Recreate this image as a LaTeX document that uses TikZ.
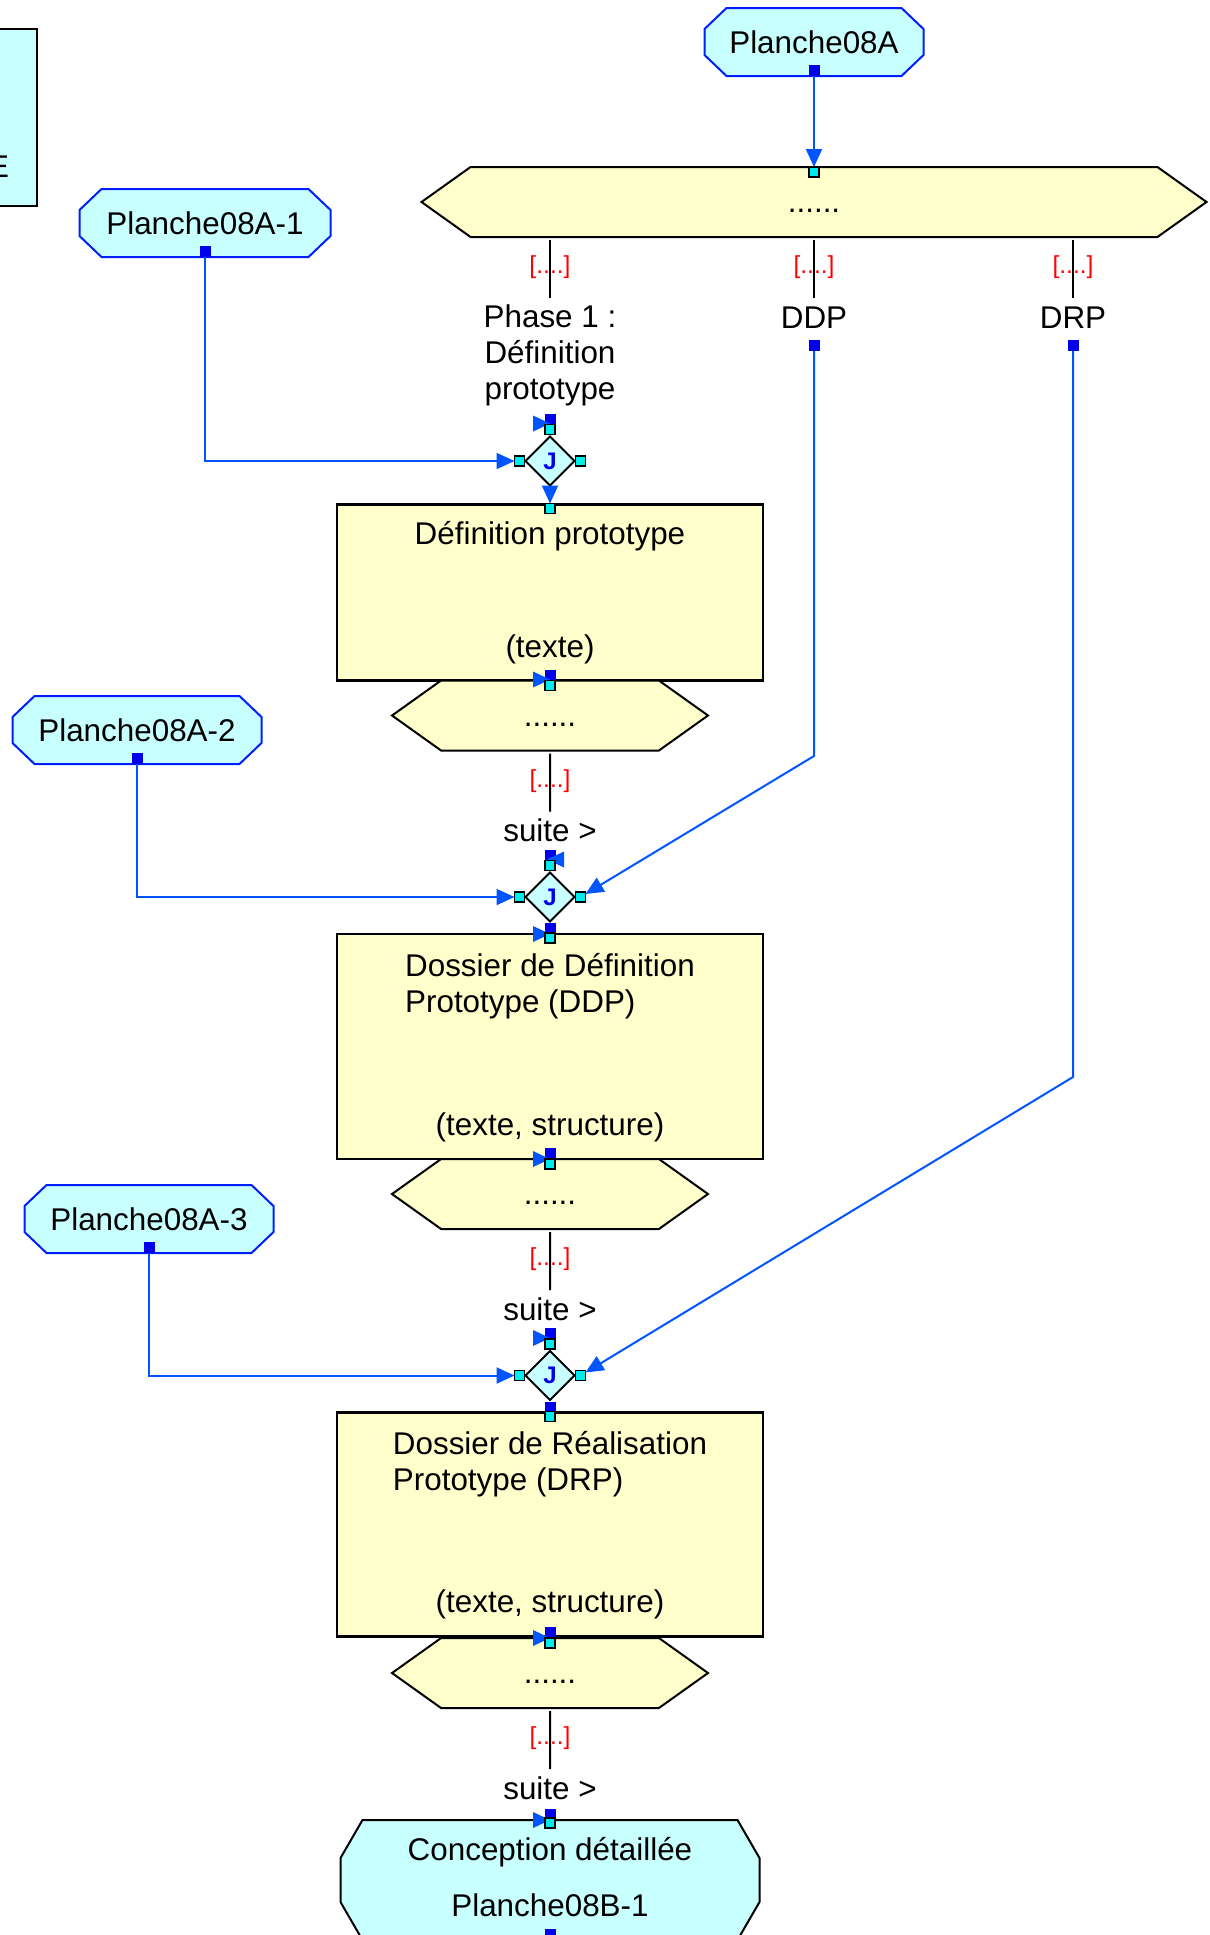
\documentclass[tikz,border=0pt]{standalone}
\usepackage{fontspec}
\setmainfont{Liberation Sans}
\usetikzlibrary{positioning}
\usetikzlibrary{shapes.geometric,shapes.symbols}
\usetikzlibrary{arrows.meta}

\definecolor{plancheFill}{RGB}{200,255,255}
\definecolor{plancheLine}{RGB}{0,30,255}
\definecolor{boxFill}{RGB}{255,255,204}
\definecolor{linkBlue}{RGB}{0,85,255}
\definecolor{pinBlue}{RGB}{0,0,235}
\definecolor{portCyan}{RGB}{0,235,235}

\pgfdeclarelayer{back}
\pgfsetlayers{back,main}

% octagon round a node: node, x cut, y cut
\newcommand{\octo}[3]{([xshift=#2]#1.north west) -- ([xshift=-#2]#1.north east) -- ([yshift=-#3]#1.north east) -- ([yshift=#3]#1.south east) -- ([xshift=-#2]#1.south east) -- ([xshift=#2]#1.south west) -- ([yshift=#3]#1.south west) -- ([yshift=-#3]#1.north west) -- cycle}

\tikzset{>={Triangle[length=9pt,width=8pt]}, % filled arrow heads
every node/.style={font=\fontsize{15.7}{18}\selectfont, inner sep=0pt, outer sep=0pt}, % Arial-like text
txt/.style={text height=11.5pt, text depth=3.5pt}, % one line of text
planche/.style={rectangle, minimum height=34pt, text height=11.3pt, text depth=0pt}, % sheet references
plancheLook/.style={draw=plancheLine, line width=1pt, fill=plancheFill}, % their octagon
hexa/.style={signal, signal to=east and west, signal pointer angle=71, draw, line width=1pt, fill=boxFill, minimum height=35pt, text height=14pt, text depth=3.5pt}, % the ...... blocks
task/.style={rectangle, draw, line width=1.2pt, fill=boxFill, minimum width=213pt}, % the big yellow boxes
junction/.style={diamond, draw, line width=1pt, fill=plancheFill, minimum size=24.5pt, text=pinBlue, font=\fontsize{12}{14}\selectfont\bfseries}, % the J nodes
portsq/.style={rectangle, draw, line width=0.7pt, fill=portCyan, minimum size=5pt}, % cyan entry squares
pinsq/.style={rectangle, fill=pinBlue, minimum size=5.5pt}, % blue exit squares
tipR/.style={isosceles triangle, isosceles triangle stretches, fill=linkBlue, minimum height=8.5pt, minimum width=8pt}, % lone arrow heads
tipL/.style={tipR, shape border rotate=180},
link/.style={->, draw=linkBlue, line width=1pt}, % blue connectors
stub/.style={draw, line width=1pt, shorten <=1.5pt, shorten >=3.5pt}, % black outputs
elide/.style={pos=0.45, text=red, font=\fontsize{12.3}{14}\selectfont} % the red [....]
}

\begin{document}
\begin{tikzpicture}[x=0.5pt, y=-0.5pt]
\useasboundingbox (0,0) rectangle (1210,1935);
\clip (0,0) rectangle (1210,1935);

% previous sheet, cut by the edge
\node[rectangle, draw, line width=1.2pt, fill=plancheFill, minimum width=60pt, minimum height=88.5pt, anchor=north east] (prevbox) at (37,29) {};
\node[txt, anchor=base east] (prevtxt) at (9,177) {E};

% sheets coming in
\node[planche, minimum width=109.5pt] (octA) at (814,42) {Planche08A};
\node[planche, minimum width=125.5pt] (oct1) at (205,223) {Planche08A-1};
\node[planche, minimum width=124.5pt] (oct2) at (137,730) {Planche08A-2};
\node[planche, minimum width=124.5pt] (oct3) at (149,1219) {Planche08A-3};

% main column
\node[hexa, minimum width=392.5pt] (hexA) at (814,202) {......};
\node[align=center, anchor=north] (phase) at (550,305) {Phase 1 :\\Définition\\prototype};
\node[txt, below=34pt of hexA.south] (ddp) {DDP};
\node[txt, anchor=north] (drp) at (1073,305) {DRP};

\node[junction] (j1) at (550,461) {J};
\node[task, minimum height=88pt, below=9.5pt of j1] (b1) {};
\node[txt, below=8.5pt of b1.north] (b1title) {Définition prototype};
\node[txt, above=8pt of b1.south] (b1note) {(texte)};
\node[hexa, minimum width=158pt, below=0pt of b1] (hex2) {......};
\node[txt, below=34pt of hex2] (suite1) {suite >};

\node[junction, below=12pt of suite1] (j2) {J};
\node[task, minimum height=112.5pt, below=6.25pt of j2] (b2) {};
\node[align=left, below=9.5pt of b2.north] (b2title) {Dossier de Définition\\Prototype (DDP)};
\node[txt, above=8.5pt of b2.south] (b2note) {(texte, structure)};
\node[hexa, minimum width=158pt, below=0pt of b2] (hex3) {......};
\node[txt, below=34pt of hex3] (suite2) {suite >};

\node[junction, below=12pt of suite2] (j3) {J};
\node[task, minimum height=112pt, below=6.25pt of j3] (b3) {};
\node[align=left, below=9.5pt of b3.north] (b3title) {Dossier de Réalisation\\Prototype (DRP)};
\node[txt, above=8.5pt of b3.south] (b3note) {(texte, structure)};
\node[hexa, minimum width=158pt, below=0.75pt of b3] (hex4) {......};
\node[txt, below=34pt of hex4] (suite3) {suite >};

\node[planche, minimum width=209.5pt, minimum height=60pt, below=7pt of suite3] (octB) {};
\node[txt, below=8.75pt of octB.north] (octBtitle) {Conception détaillée};
\node[txt, below=13pt of octBtitle] (octBcode) {Planche08B-1};

% octagons behind the sheet names
\begin{pgfonlayer}{back}
\draw[plancheLook] \octo{octA}{11pt}{10.5pt};
\draw[plancheLook] \octo{oct1}{11pt}{10.5pt};
\draw[plancheLook] \octo{oct2}{11pt}{10.5pt};
\draw[plancheLook] \octo{oct3}{11pt}{10.5pt};
\draw[plancheLook, draw=black] \octo{octB}{11pt}{19pt};
\end{pgfonlayer}

% exit squares
\node[pinsq, above=0pt of octA.south] (octApin) {};
\node[pinsq, above=0pt of oct1.south] (oct1pin) {};
\node[pinsq, above=0pt of oct2.south] (oct2pin) {};
\node[pinsq, above=0pt of oct3.south] (oct3pin) {};
\node[pinsq, below=2.5pt of ddp] (ddppin) {};
\node[pinsq, below=2.5pt of drp] (drppin) {};
\node[pinsq, above=0pt of octB.south] (octBpin) {};
\node[pinsq, above=6pt of j1] (j1pin) {};
\node[pinsq, above=0pt of hex2.north] (b1pin) {};
\node[pinsq, above=6pt of j2] (j2pin) {};
\node[pinsq, above=0pt of b2.north] (j2out) {};
\node[pinsq, above=0pt of hex3.north] (b2pin) {};
\node[pinsq, above=6pt of j3] (j3pin) {};
\node[pinsq, above=0pt of b3.north] (j3out) {};
\node[pinsq, above=0pt of hex4.north] (b3pin) {};
\node[pinsq, above=0pt of octB.north] (suite3pin) {};

% lone arrow heads
\node[tipR, anchor=apex, yshift=6.5pt] (j1tip) at (j1.north) {};
\node[tipR, anchor=apex, yshift=0.5pt] (b1tip) at (hex2.north) {};
\node[tipL, anchor=apex, yshift=6.5pt, xshift=-1.5pt] (j2tip) at (j2.north) {};
\node[tipR, anchor=apex] (j2outtip) at (b2.north) {};
\node[tipR, anchor=apex] (b2tip) at (hex3.north) {};
\node[tipR, anchor=apex, yshift=6.5pt] (j3tip) at (j3.north) {};
\node[tipR, anchor=apex] (b3tip) at (hex4.north) {};
\node[tipR, anchor=apex] (suite3tip) at (octB.north) {};

% cyan entry squares
\node[portsq, below=0pt of hexA.north] (hexAin) {};
\node[portsq, left=0.5pt of j1] (j1l) {};
\node[portsq, right=0.5pt of j1] (j1r) {};
\node[portsq, above=1pt of j1] (j1t) {};
\node[portsq, below=-0.5pt of b1.north] (b1in) {};
\node[portsq, below=0pt of hex2.north] (hex2in) {};
\node[portsq, left=0.5pt of j2] (j2l) {};
\node[portsq, right=0.5pt of j2] (j2r) {};
\node[portsq, above=1pt of j2] (j2t) {};
\node[portsq, below=-0.5pt of b2.north] (b2in) {};
\node[portsq, below=0pt of hex3.north] (hex3in) {};
\node[portsq, left=0.5pt of j3] (j3l) {};
\node[portsq, right=0.5pt of j3] (j3r) {};
\node[portsq, above=1pt of j3] (j3t) {};
\node[portsq, below=-0.5pt of b3.north] (b3in) {};
\node[portsq, below=0pt of hex4.north] (hex4in) {};
\node[portsq, below=-1pt of octB.north] (octBin) {};

% outputs of the ...... blocks
\draw[stub] (phase.north |- hexA.south) -- node[elide] (e1) {[....]} (phase);
\draw[stub] (hexA.south) -- node[elide] (e2) {[....]} (ddp);
\draw[stub] (drp.north |- hexA.south) -- node[elide] (e3) {[....]} (drp);
\draw[stub] (hex2) -- node[elide] (e4) {[....]} (suite1);
\draw[stub] (hex3) -- node[elide] (e5) {[....]} (suite2);
\draw[stub] (hex4) -- node[elide] (e6) {[....]} (suite3);

% blue links
\coordinate (ddpbend) at (ddppin |- 0,756);
\coordinate (drpbend) at (drppin |- 0,1077);
\draw[link] (octApin) -- (hexAin);
\draw[link] (oct1pin) |- (j1l);
\draw[link] (oct2pin) |- (j2l);
\draw[link] (oct3pin) |- (j3l);
\draw[link] (j1) -- (b1in);
\draw[link] (ddppin) -- (ddpbend) -- (j2r);
\draw[link] (drppin) -- (drpbend) -- (j3r);

\end{tikzpicture}
\end{document}
